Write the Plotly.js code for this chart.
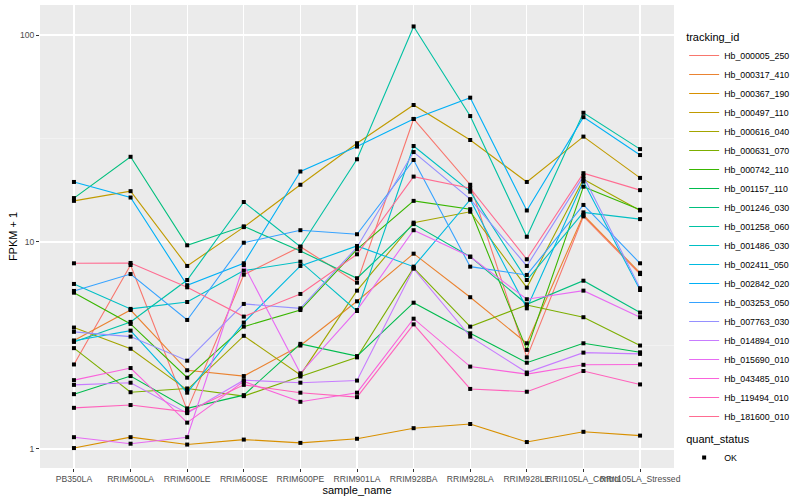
<!DOCTYPE html>
<html>
<head>
<meta charset="utf-8">
<script src="https://cdn.plot.ly/plotly-3.0.1.min.js"></script>
<style>html,body{margin:0;padding:0;background:#fff;}#chart{width:800px;height:500px;}</style>
</head>
<body>
<div id="chart"></div>
<script>
// Categories (x axis)
const samples = ['PB350LA','RRIM600LA','RRIM600LE','RRIM600SE','RRIM600PE','RRIM901LA','RRIM928BA','RRIM928LA','RRIM928LE','RRII105LA_Control','RRII105LA_Stressed'];

// Series names (legend order)
const trackingIds = ['Hb_000005_250','Hb_000317_410','Hb_000367_190','Hb_000497_110','Hb_000616_040','Hb_000631_070','Hb_000742_110','Hb_001157_110','Hb_001246_030','Hb_001258_060','Hb_001486_030','Hb_002411_050','Hb_002842_020','Hb_003253_050','Hb_007763_030','Hb_014894_010','Hb_015690_010','Hb_043485_010','Hb_119494_010','Hb_181600_010'];

// ggplot default hue palette for 20 levels
const seriesColors = ['#F8766D','#EA8331','#D89000','#C09B00','#A3A500','#7CAE00','#39B600','#00BB4E','#00BF7D','#00C1A3','#00BFC4','#00BAE0','#00B0F6','#35A2FF','#9590FF','#C77CFF','#E76BF3','#FA62DB','#FF62BC','#FF6C91'];

// FPKM + 1 values, one array per tracking_id, in sample order
const hb_000005_250 = [2.56, 7.74, 1.54, 6.95, 9.49, 6.36, 39.3, 18.9, 2.77, 13.3, 7.0];
const hb_000317_410 = [3.34, 4.69, 2.40, 2.25, 3.16, 5.17, 8.78, 5.41, 3.24, 13.5, 7.1];
const hb_000367_190 = [1.01, 1.14, 1.05, 1.11, 1.07, 1.12, 1.26, 1.32, 1.08, 1.21, 1.16];
const hb_000497_110 = [15.8, 17.6, 7.66, 11.8, 18.9, 30.0, 45.9, 31.1, 19.5, 32.3, 20.4];
const hb_000616_040 = [3.86, 3.05, 1.93, 3.52, 2.28, 5.82, 12.4, 14.0, 6.02, 20.1, 14.2];
const hb_000631_070 = [3.07, 1.88, 1.96, 1.80, 2.24, 2.77, 7.49, 3.90, 4.96, 4.33, 3.16];
const hb_000742_110 = [5.69, 4.02, 2.21, 3.90, 4.69, 9.22, 15.8, 14.4, 3.01, 18.5, 14.3];
const hb_001157_110 = [1.84, 2.25, 1.57, 1.82, 3.22, 2.81, 5.09, 3.62, 2.61, 3.24, 2.93];
const hb_001246_030 = [16.3, 25.8, 9.64, 11.9, 9.05, 6.68, 12.2, 8.49, 5.00, 6.50, 4.56];
const hb_001258_060 = [3.29, 4.11, 6.55, 15.6, 9.49, 25.1, 110, 40.6, 10.6, 42.1, 28.1];
const hb_001486_030 = [6.27, 4.75, 5.13, 7.27, 8.03, 4.64, 29.1, 17.5, 6.55, 13.9, 12.9];
const hb_002411_050 = [3.33, 3.73, 1.87, 4.08, 7.66, 9.57, 7.60, 16.0, 4.78, 19.6, 5.86];
const hb_002842_020 = [19.5, 16.4, 6.18, 7.89, 21.9, 28.9, 39.3, 49.8, 14.2, 40.1, 26.3];
const hb_003253_050 = [5.80, 7.00, 4.20, 9.92, 11.4, 10.9, 24.9, 7.60, 6.93, 15.1, 7.89];
const hb_007763_030 = [3.68, 3.49, 2.67, 5.02, 4.78, 9.43, 27.2, 16.1, 7.66, 20.8, 5.98];
const hb_014894_010 = [2.04, 2.09, 1.49, 2.15, 2.09, 2.14, 7.43, 3.49, 2.34, 2.92, 2.88];
const hb_015690_010 = [1.14, 1.06, 1.14, 7.74, 2.32, 4.69, 11.4, 8.49, 5.29, 5.82, 4.33];
const hb_043485_010 = [2.15, 2.46, 1.34, 2.12, 1.69, 1.87, 4.26, 2.50, 2.30, 2.55, 2.56];
const hb_119494_010 = [1.58, 1.63, 1.51, 2.04, 1.87, 1.78, 4.00, 1.95, 1.89, 2.38, 2.05];
const hb_181600_010 = [7.89, 7.92, 6.04, 4.36, 5.61, 8.72, 20.7, 18.2, 8.25, 21.5, 17.8];

const seriesValues = [hb_000005_250, hb_000317_410, hb_000367_190, hb_000497_110, hb_000616_040, hb_000631_070, hb_000742_110, hb_001157_110, hb_001246_030, hb_001258_060, hb_001486_030, hb_002411_050, hb_002842_020, hb_003253_050, hb_007763_030, hb_014894_010, hb_015690_010, hb_043485_010, hb_119494_010, hb_181600_010];

// y axis ticks
const yTickVals = [1, 10, 100];
const yTickText = ['1', '10', '100'];
const yMinorVals = [Math.sqrt(10), 10 * Math.sqrt(10)];
const quantStatus = 'OK';

const FONT = 'Liberation Sans, Arial, Helvetica, sans-serif';

const traces = [];
trackingIds.forEach((id, i) => {
  traces.push({
    type: 'scatter', mode: 'lines', name: id,
    x: samples, y: seriesValues[i],
    line: {color: seriesColors[i], width: 1.1},
    legend: 'legend', hoverinfo: 'skip'
  });
});
// all points (black squares), mapped to quant_status
const px = [], py = [];
seriesValues.forEach(vals => { vals.forEach((v, j) => { px.push(samples[j]); py.push(v); }); });
traces.push({
  type: 'scatter', mode: 'markers', name: quantStatus,
  x: px, y: py,
  marker: {symbol: 'square', size: 4, color: '#000000'},
  legend: 'legend2', showlegend: true, hoverinfo: 'skip'
});

const layout = {
  width: 800, height: 500,
  margin: {l: 40, r: 117, t: 5, b: 32},
  paper_bgcolor: '#FFFFFF',
  plot_bgcolor: '#EBEBEB',
  font: {family: FONT, size: 9, color: '#000000'},
  showlegend: true,
  xaxis: {
    type: 'category', categoryorder: 'array', categoryarray: samples,
    range: [-0.6, 10.6], fixedrange: true,
    showgrid: true, gridcolor: '#FFFFFF', gridwidth: 1.1,
    zeroline: false, showline: false,
    ticks: 'outside', ticklen: 3, tickcolor: '#333333', tickwidth: 1,
    tickangle: 0,
    tickfont: {family: FONT, size: 8.6, color: '#4D4D4D'},
    title: {text: 'sample_name', font: {family: FONT, size: 11, color: '#000000'}, standoff: 1},
    automargin: false
  },
  yaxis: {
    type: 'log', range: [-0.092, 2.145], fixedrange: true,
    tickmode: 'array', tickvals: yTickVals, ticktext: yTickText,
    showgrid: true, gridcolor: '#FFFFFF', gridwidth: 1.1,
    minor: {tickmode: 'array', tickvals: yMinorVals, showgrid: true, gridcolor: '#F7F7F7', gridwidth: 0.6, ticks: ''},
    zeroline: false, showline: false,
    ticks: 'outside', ticklen: 3, tickcolor: '#333333', tickwidth: 1,
    tickfont: {family: FONT, size: 8.6, color: '#4D4D4D'},
    title: {text: 'FPKM + 1', font: {family: FONT, size: 11, color: '#000000'}, standoff: 0},
    automargin: false
  },
  legend: {
    title: {text: 'tracking_id', font: {family: FONT, size: 11, color: '#000000'}},
    font: {family: FONT, size: 8.8, color: '#000000'},
    x: 1.016, xanchor: 'left', y: 0.953, yanchor: 'top',
    bgcolor: 'rgba(255,255,255,0)', borderwidth: 0,
    itemwidth: 30, tracegroupgap: 0, itemclick: false, itemdoubleclick: false
  },
  legend2: {
    title: {text: 'quant_status', font: {family: FONT, size: 11, color: '#000000'}},
    font: {family: FONT, size: 8.8, color: '#000000'},
    x: 1.016, xanchor: 'left', y: 0.085, yanchor: 'top',
    bgcolor: 'rgba(255,255,255,0)', borderwidth: 0,
    itemwidth: 30, itemclick: false, itemdoubleclick: false
  }
};

Plotly.newPlot('chart', traces, layout, {displayModeBar: false, staticPlot: true});
</script>
</body>
</html>
